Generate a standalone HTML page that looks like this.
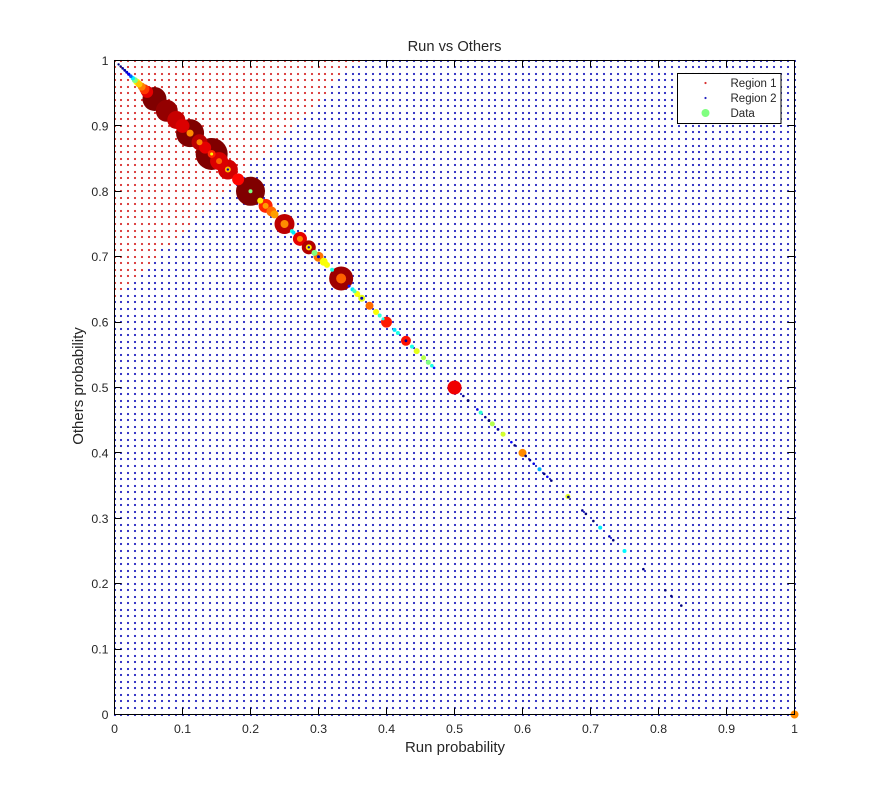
<!DOCTYPE html>
<html>
<head>
<meta charset="utf-8">
<title>Run vs Others</title>
<style>
html,body{margin:0;padding:0;background:#fff;}
svg{display:block;}
text{font-family:"Liberation Sans",Arial,sans-serif;fill:#262626;}
</style>
</head>
<body>
<svg id="chart" width="878" height="803" viewBox="0 0 878 803" xmlns="http://www.w3.org/2000/svg">
  <rect x="114.5" y="60.5" width="680" height="654" fill="#fff"/>
  <g id="grid"></g>
  <g id="data"></g>
  <g id="axes"></g>
  <text x="454.5" y="51" font-size="14.7" text-anchor="middle">Run vs Others</text>
  <text x="455" y="752" font-size="15" text-anchor="middle">Run probability</text>
  <text transform="translate(83 386) rotate(-90)" font-size="15" text-anchor="middle">Others probability</text>
  <g>
    <rect x="677.5" y="73.5" width="103.5" height="50" fill="#fff" stroke="#000" stroke-width="1"/>
    <circle cx="705.5" cy="83" r="1.1" fill="#d83030"/>
    <text x="730.5" y="87" font-size="11.5">Region 1</text>
    <circle cx="705.5" cy="98" r="1.1" fill="#2424c0"/>
    <text x="730.5" y="102" font-size="11.5">Region 2</text>
    <circle cx="705.5" cy="113" r="4" fill="#80ff80"/>
    <text x="730.5" y="117" font-size="11.5">Data</text>
  </g>
</svg>
<script>
var xTicks = [0, 0.1, 0.2, 0.3, 0.4, 0.5, 0.6, 0.7, 0.8, 0.9, 1];
var yTicks = [0, 0.1, 0.2, 0.3, 0.4, 0.5, 0.6, 0.7, 0.8, 0.9, 1];
var tickLabels = ["0", "0.1", "0.2", "0.3", "0.4", "0.5", "0.6", "0.7", "0.8", "0.9", "1"];

var gridStep = 0.01;
var regionThreshold = 0.64;

var runProb = [
  0.006, 0.009, 0.012, 0.015, 0.018, 0.021, 0.024, 0.027, 0.03, 0.033, 0.036, 0.04, 0.044, 0.048,
  0.0588, 0.0769, 0.0909, 0.1, 0.1111, 0.1111, 0.125, 0.125, 0.1333, 0.1429, 0.1429, 0.1429,
  0.1538, 0.1538, 0.1667, 0.1667, 0.1667, 0.1818, 0.2, 0.2, 0.2143, 0.2222, 0.2222, 0.2308, 0.2353,
  0.25, 0.25, 0.2609, 0.2632, 0.2727, 0.2727, 0.2857, 0.2857, 0.2857, 0.2941, 0.3, 0.3, 0.3077, 0.3125, 0.32,
  0.3333, 0.3333, 0.345, 0.35, 0.3529, 0.357, 0.3636, 0.3636, 0.375, 0.3846, 0.39, 0.395, 0.4, 0.4118, 0.4167,
  0.4286, 0.4286, 0.4375, 0.4444, 0.4545, 0.4615, 0.4667, 0.47, 0.5, 0.5385, 0.5556, 0.5714, 0.6, 0.625, 0.6667, 0.7143, 0.75, 1,
  0.513, 0.52, 0.5336, 0.5453, 0.5507, 0.564, 0.5836, 0.5885, 0.6047, 0.611, 0.6165, 0.632, 0.6365, 0.6424,
  0.6674, 0.688, 0.6932, 0.7042, 0.7277, 0.7335, 0.7777, 0.81, 0.8189, 0.8335
];
var othersProb = [
  0.994, 0.991, 0.988, 0.985, 0.982, 0.979, 0.976, 0.973, 0.97, 0.967, 0.964, 0.96, 0.956, 0.952,
  0.9412, 0.9231, 0.9091, 0.9, 0.8889, 0.8889, 0.875, 0.875, 0.8667, 0.8571, 0.8571, 0.8571,
  0.8462, 0.8462, 0.8333, 0.8333, 0.8333, 0.8182, 0.8, 0.8, 0.7857, 0.7778, 0.7778, 0.7692, 0.7647,
  0.75, 0.75, 0.7391, 0.7368, 0.7273, 0.7273, 0.7143, 0.7143, 0.7143, 0.7059, 0.7, 0.7, 0.6923, 0.6875, 0.68,
  0.6667, 0.6667, 0.655, 0.65, 0.6471, 0.643, 0.6364, 0.6364, 0.625, 0.6154, 0.61, 0.605, 0.6, 0.5882, 0.5833,
  0.5714, 0.5714, 0.5625, 0.5556, 0.5455, 0.5385, 0.5333, 0.53, 0.5, 0.4615, 0.4444, 0.4286, 0.4, 0.375, 0.3333, 0.2857, 0.25, 0,
  0.487, 0.48, 0.4664, 0.4547, 0.4493, 0.436, 0.4164, 0.4115, 0.3953, 0.389, 0.3835, 0.368, 0.3635, 0.3576,
  0.3326, 0.312, 0.3068, 0.2958, 0.2723, 0.2665, 0.2223, 0.19, 0.1811, 0.1665
];
var pointWeight = [
  1.2, 1.2, 1.3, 1.4, 1.5, 1.6, 1.8, 2.2, 3, 3.5, 3.5, 4, 5, 6,
  12, 11, 9, 7, 14, 3.5, 8, 3, 6, 16, 4, 1.5,
  9, 3, 10, 3, 1.2, 6, 14.5, 2, 3, 7, 3, 5, 4,
  10, 4, 2, 2, 7, 3, 7, 3, 1.2, 3, 5, 1.5, 4, 3, 2,
  12, 5, 1.5, 2, 2, 3, 3.5, 1.5, 4, 3, 2, 1.5, 5.5, 2, 2,
  5, 1.4, 2, 3, 2.5, 2.5, 1.8, 1.3, 7, 2, 2.5, 2.5, 4, 2, 2.5, 2, 2, 4,
  1.3, 1.4, 1.3, 1.3, 1.4, 1.4, 1.3, 1.3, 1.3, 1.3, 1.3, 1.3, 1.3, 1.3,
  1.3, 1.3, 1.3, 1.3, 1.3, 1.3, 1.3, 1.3, 1.3, 1.3
];
var pointLevel = [
  0, 0, 0.02, 0.04, 0.08, 0.12, 0.22, 0.36, 0.5, 0.62, 0.68, 0.75, 0.82, 0.9,
  1, 0.98, 0.93, 0.91, 1, 0.74, 0.94, 0.75, 0.9, 1, 0.84, 0.62,
  0.91, 0.78, 0.92, 0.7, 0.04, 0.87, 1, 0.5, 0.65, 0.84, 0.72, 0.77, 0.72,
  0.94, 0.74, 0.4, 0.35, 0.9, 0.74, 0.95, 0.65, 0.05, 0.5, 0.76, 0.05, 0.62, 0.62, 0.4,
  0.97, 0.78, 0.15, 0.35, 0.45, 0.62, 0.6, 0.05, 0.77, 0.62, 0.42, 0.4, 0.85, 0.35, 0.4,
  0.86, 0.03, 0.4, 0.6, 0.55, 0.5, 0.4, 0.15, 0.89, 0.42, 0.55, 0.58, 0.74, 0.3, 0.6, 0.36, 0.37, 0.74,
  0.02, 0, 0.1, 0.03, 0, 0.03, 0.12, 0, 0, 0.03, 0.1, 0, 0.12, 0,
  0, 0.02, 0, 0, 0.06, 0, 0, 0, 0, 0
];

var NS = "http://www.w3.org/2000/svg";
var plotLeft = 114.5, plotRight = 794.5, plotTop = 60.5, plotBottom = 714.5;
function xScale(v) { return plotLeft + v * (plotRight - plotLeft); }
function yScale(v) { return plotBottom - v * (plotBottom - plotTop); }
function radiusScale(w) { return w; }
function channel(t) { return Math.round(255 * Math.max(0, Math.min(1, t))); }
function jet(v) {
  var r = 1.5 - Math.abs(4 * v - 3);
  var g = 1.5 - Math.abs(4 * v - 2);
  var b = 1.5 - Math.abs(4 * v - 1);
  return "rgb(" + channel(r) + "," + channel(g) + "," + channel(b) + ")";
}

var gridGroup = document.getElementById("grid");
var gridCount = Math.round(1 / gridStep);
for (var i = 0; i <= gridCount; i++) {
  for (var j = 0; j <= gridCount; j++) {
    var gx = i * gridStep, gy = j * gridStep;
    var inRegion1 = gy - gx >= regionThreshold;
    var dot = document.createElementNS(NS, "circle");
    dot.setAttribute("cx", Math.round(xScale(gx)));
    dot.setAttribute("cy", Math.round(yScale(gy)));
    dot.setAttribute("r", "1.1");
    dot.setAttribute("fill", inRegion1 ? "#d83030" : "#2424c0");
    
    
    gridGroup.appendChild(dot);
  }
}

var dataGroup = document.getElementById("data");
var order = runProb.map(function (_, k) { return k; });
order.sort(function (a, b) { return pointWeight[b] - pointWeight[a]; });
order.forEach(function (k) {
  var c = document.createElementNS(NS, "circle");
  c.setAttribute("cx", xScale(runProb[k]).toFixed(2));
  c.setAttribute("cy", yScale(othersProb[k]).toFixed(2));
  c.setAttribute("r", radiusScale(pointWeight[k]));
  c.setAttribute("fill", jet(pointLevel[k]));
  
  
  dataGroup.appendChild(c);
});

var axes = document.getElementById("axes");
var box = document.createElementNS(NS, "rect");
box.setAttribute("x", plotLeft);
box.setAttribute("y", plotTop);
box.setAttribute("width", plotRight - plotLeft);
box.setAttribute("height", plotBottom - plotTop);
box.setAttribute("fill", "none");
box.setAttribute("stroke", "#000");


axes.appendChild(box);

function addLine(x1, y1, x2, y2) {
  var l = document.createElementNS(NS, "line");
  l.setAttribute("x1", x1);
  l.setAttribute("y1", y1);
  l.setAttribute("x2", x2);
  l.setAttribute("y2", y2);
  l.setAttribute("stroke", "#000");
  
  
  axes.appendChild(l);
}
function addLabel(x, y, anchor, str) {
  var t = document.createElementNS(NS, "text");
  t.setAttribute("x", x);
  t.setAttribute("y", y);
  t.setAttribute("font-size", "12.3");
  t.setAttribute("text-anchor", anchor);
  t.textContent = str;
  
  
  axes.appendChild(t);
}
xTicks.forEach(function (v, k) {
  var px = Math.round(xScale(v) - 0.5) + 0.5;
  addLine(px, plotBottom, px, plotBottom - 7);
  addLine(px, plotTop, px, plotTop + 7);
  addLabel(xScale(v), 733, "middle", tickLabels[k]);
});
yTicks.forEach(function (v, k) {
  var py = Math.round(yScale(v) - 0.5) + 0.5;
  addLine(plotLeft, py, plotLeft + 7, py);
  addLine(plotRight, py, plotRight - 7, py);
  addLabel(108.5, yScale(v) + 4.5, "end", tickLabels[k]);
});
</script>
</body>
</html>
